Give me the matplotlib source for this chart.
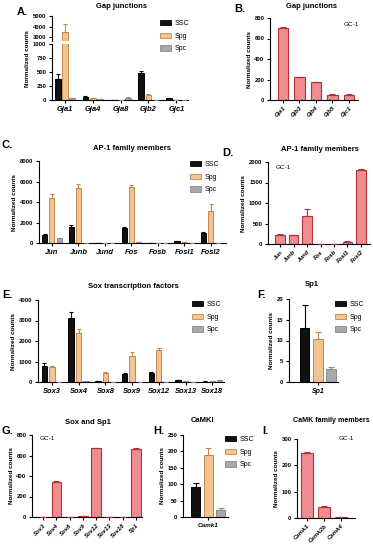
import numpy as np
import matplotlib
matplotlib.use('Agg')
import matplotlib.pyplot as plt
from matplotlib.patches import Patch

plt.rcParams['font.family'] = ['Liberation Sans', 'DejaVu Sans']
plt.rcParams['font.weight'] = 'bold'
plt.rcParams['axes.linewidth'] = 0.8

W, H = 373, 550

# ---- data ----
cells = ['SSC', 'Spg', 'Spc']

gap_genes = ['Gja1', 'Gja4', 'Gja8', 'Gjb2', 'Gjc1']
gap_ssc = [380, 60, 0, 480, 30]
gap_ssc_err = [90, 10, 0, 45, 5]
gap_spg = [3500, 30, 0, 90, 5]
gap_spg_err = [700, 5, 0, 20, 0]
gap_spc = [30, 10, 40, 5, 5]
gap_spc_err = [5, 0, 5, 0, 0]

gc1_gap_genes = ['Gja1', 'Gjb3', 'Gjb4', 'Gjb5', 'Gjc1']
gc1_gap = [700, 220, 175, 50, 45]
gc1_gap_err = [12, 8, 5, 5, 15]

ap1_genes = ['Jun', 'Junb', 'Jund', 'Fos', 'Fosb', 'Fosl1', 'Fosl2']
ap1_ssc = [750, 1600, 0, 1450, 0, 150, 950]
ap1_ssc_err = [80, 150, 0, 150, 0, 30, 150]
ap1_spg = [4400, 5400, 0, 5450, 0, 100, 3100]
ap1_spg_err = [350, 400, 0, 200, 0, 20, 700]
ap1_spc = [450, 0, 0, 50, 0, 30, 0]
ap1_spc_err = [60, 0, 0, 10, 0, 5, 0]

gc1_ap1 = [230, 210, 680, 0, 0, 60, 1800]
gc1_ap1_err = [15, 15, 170, 0, 0, 15, 30]

sox_genes = ['Sox3', 'Sox4', 'Sox8', 'Sox9', 'Sox12', 'Sox13', 'Sox18']
sox_ssc = [800, 3100, 60, 400, 430, 100, 20]
sox_ssc_err = [150, 300, 10, 50, 40, 20, 5]
sox_spg = [750, 2400, 450, 1280, 1550, 30, 60]
sox_spg_err = [50, 200, 40, 200, 130, 5, 10]
sox_spc = [10, 50, 20, 20, 20, 10, 100]
sox_spc_err = [2, 5, 3, 3, 3, 2, 20]

sp1_vals = [13.1, 10.4, 3.1]
sp1_err = [5.4, 1.7, 0.5]

gc1_sox_genes = ['Sox3', 'Sox4', 'Sox8', 'Sox9', 'Sox12', 'Sox13', 'Sox18', 'Sp1']
gc1_sox = [0, 340, 3, 8, 670, 0, 0, 660]
gc1_sox_err = [0, 8, 1, 2, 8, 0, 0, 10]

camk1_vals = [92, 190, 20]
camk1_err = [11, 20, 7]

camk_genes = ['Camk1', 'Camk2b', 'Camk4']
gc1_camk = [245, 42, 2]
gc1_camk_err = [5, 3, 1]

# ---- styles ----
fills = ['#111111', '#F3C48F', '#A8A8A8']
edges = ['#000000', '#C4874B', '#8A8A8A']
gc_fill = '#EE8C90'
gc_edge = '#B3313A'

fig = plt.figure(figsize=(W / 100, H / 100), dpi=100)


def px_axes(x0, x1, y0, y1):
    return fig.add_axes([x0 / W, 1 - y1 / H, (x1 - x0) / W, (y1 - y0) / H])


def style(ax, yticks, ylim, xlim):
    for s in ['top', 'right']:
        ax.spines[s].set_visible(False)
    ax.set_ylim(*ylim)
    ax.set_xlim(*xlim)
    ax.set_yticks(yticks)
    ax.tick_params(axis='both', length=2.5, width=0.8, pad=1.5, labelsize=4.2)


def xlabels(ax, labels, rotate=False, size=5.4):
    ax.set_xticks(np.arange(len(labels)))
    if rotate:
        ax.set_xticklabels(labels, rotation=45, ha='right', rotation_mode='anchor',
                           fontsize=4.3, style='italic', fontweight='bold')
    else:
        ax.set_xticklabels(labels, fontsize=size, style='italic', fontweight='bold')


def grouped(ax, series, errs, off, width):
    x = np.arange(len(series[0]))
    for i, (vals, err) in enumerate(zip(series, errs)):
        xi = x + (i - 1) * off
        ax.bar(xi, vals, width, color=fills[i], edgecolor=edges[i], linewidth=0.7, zorder=2)
        ax.errorbar(xi, vals, yerr=[np.zeros(len(vals)), err], fmt='none',
                    ecolor=edges[i], elinewidth=0.8, capsize=1.5, capthick=0.8, zorder=3)


def single(ax, vals, err, width):
    x = np.arange(len(vals))
    ax.bar(x, vals, width, color=gc_fill, edgecolor=gc_edge, linewidth=0.8, zorder=2)
    ax.errorbar(x, vals, yerr=[np.zeros(len(vals)), err], fmt='none',
                ecolor=gc_edge, elinewidth=0.8, capsize=2, capthick=0.8, zorder=3)


def legend(ax, x, y):
    handles = [Patch(facecolor=fills[i], edgecolor=edges[i], linewidth=0.6) for i in range(3)]
    ax.legend(handles, cells, loc='upper left', bbox_to_anchor=(x / W, 1 - y / H),
              bbox_transform=fig.transFigure, frameon=False,
              prop={'size': 5.0, 'weight': 'normal'},
              handlelength=1.6, handleheight=0.8, handletextpad=0.5,
              labelspacing=0.8, borderpad=0, borderaxespad=0)


def ftext(x, y, s, size=5.5, ha='center', weight='bold'):
    fig.text(x / W, 1 - y / H, s, fontsize=size, ha=ha, va='center', fontweight=weight)


def ylab(ax):
    ax.set_ylabel('Normalized counts', fontsize=4.6, fontweight='bold', labelpad=2)


# ---- A: broken axis ----
a_top = px_axes(52, 188, 16, 41)
a_bot = px_axes(52, 188, 44, 100)
A_xlim = (-0.46, 4.42)
for ax in (a_top, a_bot):
    grouped(ax, [gap_ssc, gap_spg, gap_spc], [gap_ssc_err, gap_spg_err, gap_spc_err], 0.26, 0.21)
style(a_top, [3000, 4000, 5000], (2620, 5000), A_xlim)
a_top.spines['bottom'].set_visible(False)
a_top.set_xticks([])
style(a_bot, [0, 250, 500, 750, 1000], (0, 1000), A_xlim)
xlabels(a_bot, gap_genes)
a_bot.set_ylabel('Normalized counts', fontsize=4.6, fontweight='bold', labelpad=2)
a_bot.yaxis.set_label_coords(-0.16, 0.75)
legend(a_bot, 160, 20)
ftext(122, 6, 'Gap junctions')
ftext(17, 12, 'A.', size=8, ha='left')

# ---- B ----
b = px_axes(270, 358, 18, 100)
single(b, gc1_gap, gc1_gap_err, 0.65)
style(b, [0, 200, 400, 600, 800], (0, 800), (-0.79, 4.55))
xlabels(b, gc1_gap_genes, rotate=True)
ylab(b)
ftext(351, 25, 'GC-1', size=4.6, weight='normal')
ftext(312, 6, 'Gap junctions')
ftext(234, 9, 'B.', size=8, ha='left')

# ---- C ----
c = px_axes(39, 226, 161, 243)
grouped(c, [ap1_ssc, ap1_spg, ap1_spc], [ap1_ssc_err, ap1_spg_err, ap1_spc_err], 0.28, 0.19)
style(c, [0, 2000, 4000, 6000, 8000], (0, 8000), (-0.49, 6.57))
xlabels(c, ap1_genes)
ylab(c)
legend(c, 190, 161)
ftext(132, 148, 'AP-1 family members')
ftext(2, 145, 'C.', size=8, ha='left')

# ---- D ----
d = px_axes(268, 370, 162, 244)
single(d, gc1_ap1, gc1_ap1_err, 0.72)
style(d, [0, 500, 1000, 1500, 2000], (0, 2000), (-0.9, 6.67))
xlabels(d, ap1_genes, rotate=True)
ylab(d)
ftext(276, 167, 'GC-1', size=4.6, ha='left', weight='normal')
ftext(320, 149, 'AP-1 family members')
ftext(222, 153, 'D.', size=8, ha='left')

# ---- E ----
e = px_axes(38, 224, 300, 382)
grouped(e, [sox_ssc, sox_spg, sox_spc], [sox_ssc_err, sox_spg_err, sox_spc_err], 0.28, 0.2)
style(e, [0, 1000, 2000, 3000, 4000], (0, 4000), (-0.52, 6.44))
xlabels(e, sox_genes)
ylab(e)
legend(e, 192, 301)
ftext(133, 287, 'Sox transcription factors')
ftext(2, 295, 'E.', size=8, ha='left')

# ---- F ----
f = px_axes(289, 338, 299, 382)
for i in range(3):
    f.bar(i - 1, sp1_vals[i], 0.72, color=fills[i], edgecolor=edges[i], linewidth=0.7, zorder=2)
    f.errorbar(i - 1, sp1_vals[i], yerr=[[0], [sp1_err[i]]], fmt='none', ecolor=edges[i],
               elinewidth=0.8, capsize=2, capthick=0.8, zorder=3)
style(f, [0, 5, 10, 15, 20], (0, 20), (-2.2, 1.54))
f.set_xticks([0])
f.set_xticklabels(['Sp1'], fontsize=5, style='italic', fontweight='bold')
ylab(f)
legend(f, 335, 301)
ftext(312, 285, 'Sp1')
ftext(257, 295, 'F.', size=8, ha='left')

# ---- G ----
g = px_axes(32, 142, 435, 517)
single(g, gc1_sox, gc1_sox_err, 0.72)
style(g, [0, 200, 400, 600, 800], (0, 800), (-0.83, 7.45))
xlabels(g, gc1_sox_genes, rotate=True)
ylab(g)
ftext(40, 438, 'GC-1', size=4.6, ha='left', weight='normal')
ftext(88, 423, 'Sox and Sp1')
ftext(2, 431, 'G.', size=8, ha='left')

# ---- H ----
h = px_axes(183, 228, 435, 517)
for i in range(3):
    h.bar(i - 1, camk1_vals[i], 0.72, color=fills[i], edgecolor=edges[i], linewidth=0.7, zorder=2)
    h.errorbar(i - 1, camk1_vals[i], yerr=[[0], [camk1_err[i]]], fmt='none', ecolor=edges[i],
               elinewidth=0.8, capsize=2, capthick=0.8, zorder=3)
style(h, [0, 50, 100, 150, 200, 250], (0, 250), (-2.0, 1.6))
h.set_xticks([0])
h.set_xticklabels(['Camk1'], fontsize=4.6, style='italic', fontweight='bold')
ylab(h)
legend(h, 225, 436)
ftext(203, 421, 'CaMKI')
ftext(153, 431, 'H.', size=8, ha='left')

# ---- I ----
ia = px_axes(297, 355, 439, 518)
single(ia, gc1_camk, gc1_camk_err, 0.7)
style(ia, [0, 100, 200, 300], (0, 300), (-0.6, 2.8))
xlabels(ia, camk_genes, rotate=True)
ylab(ia)
ftext(346, 439, 'GC-1', size=4.6, weight='normal')
ftext(331, 421, 'CaMK family members', size=5.1)
ftext(262, 431, 'I.', size=8, ha='left')

fig.savefig('out.png', dpi=100)
